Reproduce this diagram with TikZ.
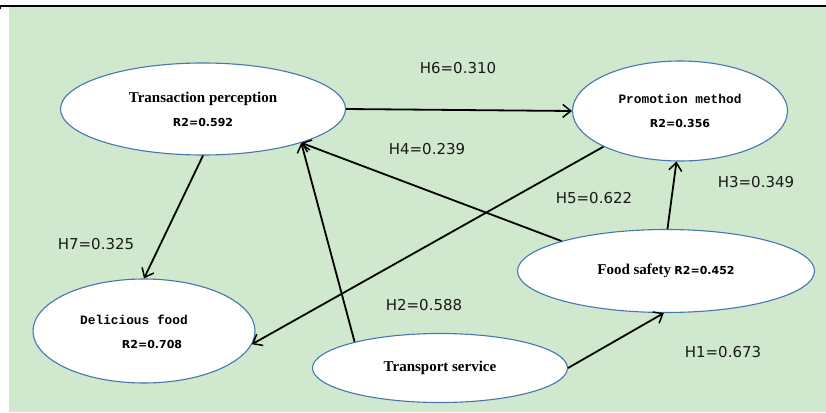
\documentclass[tikz,border=0pt]{standalone}
\usepackage{fontspec}
\usepackage{xcolor}
\usepackage{tikz}
\usetikzlibrary{shapes}
\usetikzlibrary{arrows.meta}
\newfontfamily\timesbf{Liberation Serif}
\newfontfamily\simbf{Liberation Mono}
\newfontfamily\verd{DejaVu Sans}
\definecolor{bggreen}{RGB}{208,232,205}
\definecolor{rimblue}{RGB}{72,118,176}
\newcommand{\ttl}[1]{{\timesbf\bfseries\fontsize{15}{17}\selectfont #1}}
\newcommand{\ttm}[1]{{\simbf\bfseries\fontsize{12.8}{14}\selectfont #1}}
\newcommand{\rsq}[1]{{\verd\bfseries\fontsize{11}{13}\selectfont #1}}
\tikzset{ construct/.style = {ellipse, draw=rimblue, line width=1.1pt, fill=white, align=center, inner sep=0pt} }
\tikzset{ path_arrow/.style = {line width=1.8pt, -{Straight Barb[length=8pt,width=13pt,line width=1.5pt]}} }
\tikzset{ coef/.style = {font=\verd\fontsize{15}{17}\selectfont, text=black!90} }

\begin{document}
\begin{tikzpicture}[x=1pt,y=-1pt]
            \useasboundingbox (0,0) rectangle (826,412);
            \fill[bggreen] (9,7) rectangle (826,412);
            \draw[line width=1.5pt] (0,6) -- (826,6);
            \draw[line width=1.5pt] (0,6) -- (0,9);
            % constructs
                \node [style=construct, minimum width=285pt, minimum height=92pt] (trans) at (203,109) {\ttl{Transaction perception}\\[12pt]\rsq{R2=0.592}};
                \node [style=construct, minimum width=215pt, minimum height=100pt] (promo) at (680,111) {\ttm{Promotion method}\\[12pt]\rsq{R2=0.356}};
                \node [style=construct, minimum width=222pt, minimum height=104pt] (deli) at (144,331) {};
                \node (deli_t) at (134,320) {\ttm{Delicious food}};
                \node (deli_r) at (152,344) {\rsq{R2=0.708}};
                \node [style=construct, minimum width=255pt, minimum height=69pt] (trans_s) at (440,368) {\ttl{Transport service}};
                \node [style=construct, minimum width=297pt, minimum height=83pt] (food) at (666,271) {\ttl{Food safety} \rsq{R2=0.452}};
            % paths
                \draw[style=path_arrow] (trans.east) to (promo.west);
                \draw[style=path_arrow] (food.164) to (trans.-19);
                \draw[style=path_arrow] (trans_s.163) to (trans.-19);
                \draw[style=path_arrow] (promo.205) to (deli.-7);
                \draw[style=path_arrow] (trans.south) to (deli.north);
                \draw[style=path_arrow] (food.88) to (promo.-94);
                \draw[style=path_arrow] (trans_s.east) to (food.-93);
            % coefficients
                \node [style=coef] (h6) at (458,68) {H6=0.310};
                \node [style=coef] (h4) at (427,149) {H4=0.239};
                \node [style=coef] (h5) at (594,198) {H5=0.622};
                \node [style=coef] (h3) at (756,182) {H3=0.349};
                \node [style=coef] (h7) at (96,244) {H7=0.325};
                \node [style=coef] (h2) at (424,305) {H2=0.588};
                \node [style=coef] (h1) at (723,352) {H1=0.673};
        \end{tikzpicture}
\end{document}
